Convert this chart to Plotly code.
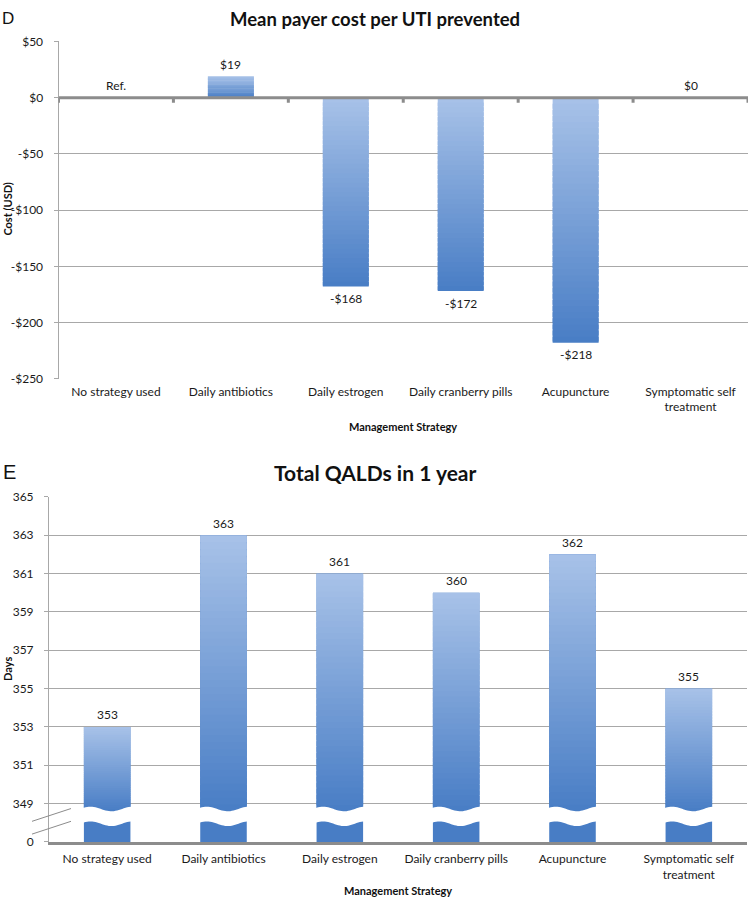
import math
import plotly.graph_objects as go

# ---------------- data ----------------
categories = ["No strategy used", "Daily antibiotics", "Daily estrogen",
              "Daily cranberry pills", "Acupuncture", "Symptomatic self<br>treatment"]

cost_values = [None, 19, -168, -172, -218, 0]          # Mean payer cost per UTI prevented (USD)
cost_labels = ["Ref.", "$19", "-$168", "-$172", "-$218", "$0"]
cost_tick_values = [50, 0, -50, -100, -150, -200, -250]
cost_tick_labels = ["$50", "$0", "-$50", "-$100", "-$150", "-$200", "-$250"]

qald_values = [353, 363, 361, 360, 362, 355]           # Total QALDs in 1 year (days)
qald_labels = ["353", "363", "361", "360", "362", "355"]
qald_tick_values = [349, 351, 353, 355, 357, 359, 361, 363, 365]
qald_tick_labels = ["349", "351", "353", "355", "357", "359", "361", "363", "365"]
qald_zero_label = "0"

# ---------------- layout constants ----------------
W, H = 750, 907
AXIS_BREAK_BOTTOM = 347       # position on the broken axis where "0" is shown
GRAD_LOW = 348.6              # where the bar gradient reaches its darkest colour
FONT = "Lato, 'Open Sans', sans-serif"
GRAY = "#8c8c8c"
GRID = "#a8a8a8"
LIGHT = (168, 194, 232)
DARK = (72, 125, 197)
N = 40
OVERLAP = 1.8


def px(x):
    return x / W


def py(y):
    return 1 - y / H


def mix(t):
    c = [round(LIGHT[j] + (DARK[j] - LIGHT[j]) * t) for j in range(3)]
    return f"rgb({c[0]},{c[1]},{c[2]})"


xi = list(range(len(categories)))
fig = go.Figure()

# ---------- chart D : gradient bars built from overlapping stacked slices ----------
cv = [0 if v is None else v for v in cost_values]
for k in range(N):
    span = min(k + OVERLAP, N) - k
    base = [v * k / N for v in cv]
    h = [v * span / N for v in cv]
    cols = [mix((k + 0.5) / N if v < 0 else 1 - (k + 0.5) / N) for v in cv]
    fig.add_trace(go.Bar(x=xi, y=h, base=base, width=0.4,
                         marker=dict(color=cols, line=dict(width=0)),
                         xaxis="x", yaxis="y", showlegend=False, hoverinfo="skip"))

# ---------- chart E : full bars + gradient overlay ----------
fig.add_trace(go.Bar(x=xi, y=qald_values, width=0.4,
                     marker=dict(color=mix(1.0), line=dict(width=0)),
                     xaxis="x2", yaxis="y2", showlegend=False, hoverinfo="skip"))
for k in range(N):
    span = min(k + OVERLAP, N) - k
    base = [GRAD_LOW + (v - GRAD_LOW) * k / N for v in qald_values]
    h = [(v - GRAD_LOW) * span / N for v in qald_values]
    cols = [mix(1 - (k + 0.5) / N) for _ in qald_values]
    fig.add_trace(go.Bar(x=xi, y=h, base=base, width=0.4,
                         marker=dict(color=cols, line=dict(width=0)),
                         xaxis="x2", yaxis="y2", showlegend=False, hoverinfo="skip"))

shapes = []
annotations = []

# zero line and boundary tick marks (chart D)
shapes.append(dict(type="line", xref="x", yref="y", x0=-0.5, x1=len(categories) - 0.5,
                   y0=0, y1=0, line=dict(color=GRAY, width=3), layer="above"))
for i in range(len(categories) + 1):
    shapes.append(dict(type="line", xref="x", yref="y", ysizemode="pixel", yanchor=0,
                       x0=i - 0.5, x1=i - 0.5, y0=0, y1=-5,
                       line=dict(color=GRAY, width=3), layer="above"))
# boundary tick marks (chart E)
for i in range(len(categories) + 1):
    shapes.append(dict(type="line", xref="x2", yref="y2", ysizemode="pixel",
                       yanchor=AXIS_BREAK_BOTTOM,
                       x0=i - 0.5, x1=i - 0.5, y0=0, y1=-5,
                       line=dict(color=GRAY, width=3), layer="above"))

# wavy white break across each bar (chart E)
TOP_C, BOT_C, AMP = 348.72, 347.95, 0.12
for i in xi:
    xs = [i - 0.215 + 0.43 * s / 30 for s in range(31)]
    top = [TOP_C + AMP * math.sin(2 * math.pi * 1.2 * (x - i + 0.215) / 0.43 + 0.3) for x in xs]
    bot = [BOT_C + AMP * math.sin(2 * math.pi * 1.2 * (x - i + 0.215) / 0.43 + 0.3) for x in xs]
    pts = [f"{x:.4f},{y:.4f}" for x, y in zip(xs, top)] + \
          [f"{x:.4f},{y:.4f}" for x, y in zip(reversed(xs), reversed(bot))]
    shapes.append(dict(type="path", xref="x2", yref="y2", path="M" + " L".join(pts) + " Z",
                       fillcolor="white", line=dict(width=0), layer="above"))

# axis break marks on the y-axis (chart E)
E_TOP, E_BOT = 497, 848
for (x0, y0, x1, y1) in [(32, 827, 71, 814), (32, 840, 71, 827)]:
    shapes.append(dict(type="line", xref="paper", yref="paper",
                       x0=px(x0), y0=py(y0), x1=px(x1), y1=py(y1),
                       line=dict(color=GRAY, width=1)))

# data labels
for i, (v, lab) in enumerate(zip(cv, cost_labels)):
    annotations.append(dict(x=i, y=v, xref="x", yref="y", text=lab, showarrow=False,
                            yshift=12 if v >= 0 else -12, yanchor="middle",
                            font=dict(family=FONT, size=12, color="#1a1a1a")))
for i, (v, lab) in enumerate(zip(qald_values, qald_labels)):
    annotations.append(dict(x=i, y=v, xref="x2", yref="y2", text=lab, showarrow=False,
                            yshift=12, yanchor="middle",
                            font=dict(family=FONT, size=12, color="#1a1a1a")))


# panel letters, titles, axis titles
def note(text, x, y, size, bold=False, angle=0, xanchor="center", family=FONT):
    annotations.append(dict(x=px(x), y=py(y), xref="paper", yref="paper",
                            text=f"<b>{text}</b>" if bold else text, showarrow=False,
                            xanchor=xanchor, yanchor="middle", textangle=angle,
                            font=dict(family=family, size=size, color="#111")))


note("D", 0, 11, 17, xanchor="left", family="Liberation Sans, Arial")
note("E", 1, 472, 20, xanchor="left", family="Liberation Sans, Arial")
note("Mean payer cost per UTI prevented", 375, 11, 18.5, bold=True)
note("Total QALDs in 1 year", 375, 472, 21, bold=True)
note("Management Strategy", 403, 426, 11, bold=True)
note("Management Strategy", 398, 897, 11, bold=True)
note("Cost (USD)", 8, 205, 11, bold=True, angle=-90)
note("Days", 8, 672, 11, bold=True, angle=-90)

tickfont = dict(family=FONT, size=12, color="#1a1a1a")
fig.update_layout(
    width=W, height=H, margin=dict(l=0, r=0, t=0, b=0),
    paper_bgcolor="white", plot_bgcolor="white",
    barmode="overlay", showlegend=False,
    shapes=shapes, annotations=annotations,
    xaxis=dict(domain=[px(58.5), px(748)], anchor="y", range=[-0.5, len(categories) - 0.5],
               tickvals=xi, ticktext=categories, ticks="", showgrid=False, zeroline=False,
               showline=False, tickfont=tickfont, ticklabelstandoff=4),
    yaxis=dict(domain=[py(377), py(34)], anchor="x", range=[-250, 50],
               tickvals=cost_tick_values, ticktext=cost_tick_labels,
               showgrid=True, gridcolor=GRID, gridwidth=1, zeroline=False,
               showline=True, linecolor=GRID, linewidth=1,
               ticks="outside", ticklen=4, tickcolor=GRID, tickfont=tickfont,
               ticklabelstandoff=8),
    xaxis2=dict(domain=[px(49), px(747)], anchor="y2", range=[-0.5, len(categories) - 0.5],
                tickvals=xi, ticktext=categories, ticks="", showgrid=False, zeroline=False,
                showline=True, linecolor=GRAY, linewidth=3, tickfont=tickfont,
                ticklabelstandoff=4),
    yaxis2=dict(domain=[py(E_BOT), py(E_TOP)], anchor="x2", range=[AXIS_BREAK_BOTTOM, 365],
                tickvals=[AXIS_BREAK_BOTTOM] + qald_tick_values,
                ticktext=[qald_zero_label] + qald_tick_labels,
                showgrid=True, gridcolor=GRID, gridwidth=1, zeroline=False,
                showline=True, linecolor=GRID, linewidth=1,
                ticks="outside", ticklen=4, tickcolor=GRID, tickfont=tickfont,
                ticklabelstandoff=8),
)

fig.write_html("out.html", config={"displayModeBar": False, "staticPlot": True},
               post_script="document.body.style.margin='0';document.body.style.overflow='hidden';")
